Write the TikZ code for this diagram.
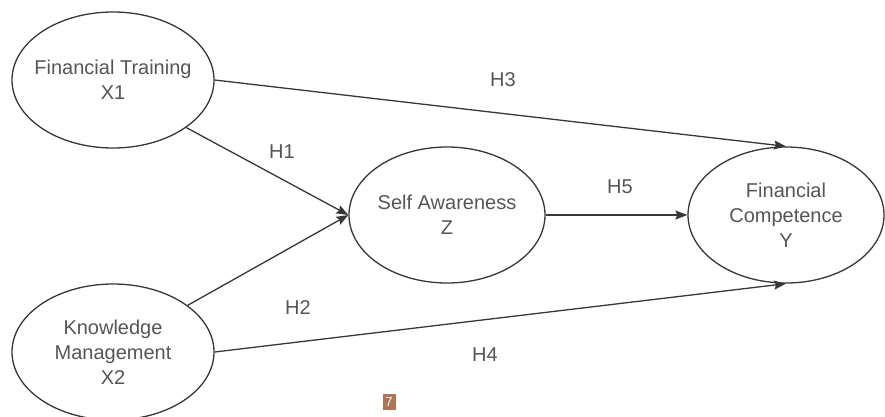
\documentclass[tikz,border=0pt]{standalone}
\usepackage{fontspec}
\setmainfont{Liberation Sans}
\usetikzlibrary{shapes.geometric, arrows.meta}
\definecolor{LineGray}{RGB}{55,55,55}
\definecolor{TextGray}{RGB}{85,85,85}
\definecolor{PageBrown}{RGB}{176,116,86}

\begin{document}
\begin{tikzpicture}[x=1pt, y=-1pt,
          var/.style={ellipse, draw=LineGray, line width=1.3pt, inner sep=0pt,
                      minimum width=202pt, minimum height=136pt},
          vartext/.style={font=\fontsize{20}{25}\selectfont, text=TextGray, align=center},
          hyp/.style={font=\fontsize{20}{25}\selectfont, text=TextGray},
          arr/.style={-{Stealth[length=12pt, width=9pt, inset=2pt]}, draw=LineGray, line width=1.3pt}
        ]
        \useasboundingbox (0,0) rectangle (885,416);

        \node[var, label={[vartext]center:Financial Training\\X1}] (x1) at (113, 80) {};
        \node[var, label={[vartext]center:Knowledge\\Management\\X2}] (x2) at (113, 352) {};
        \node[var, minimum width=196pt, label={[vartext]center:Self Awareness\\Z}] (z) at (447, 215) {};
        \node[var, minimum width=196pt, label={[vartext]center:Financial\\Competence\\Y}] (y) at (786, 215) {};

        \draw[arr] (x1.east) -- (y.north);
        \draw[arr] (x1.-33)  -- (z.west);
        \draw[arr] (x2.32)   -- (z.west);
        \draw[arr] (x2.east) -- (y.south);
        \draw[arr] (z.east)  -- (y.west);

        \node[hyp] (h1) at (282, 152) {H1};
        \node[hyp] (h2) at (298, 308) {H2};
        \node[hyp] (h3) at (503, 80)  {H3};
        \node[hyp] (h4) at (485, 355) {H4};
        \node[hyp] (h5) at (620, 187) {H5};

        \node[fill=PageBrown, text=white, font=\fontsize{13}{13}\selectfont,
              minimum width=13pt, minimum height=16pt, inner sep=0pt] (page) at (389, 402) {7};
      \end{tikzpicture}
\end{document}
